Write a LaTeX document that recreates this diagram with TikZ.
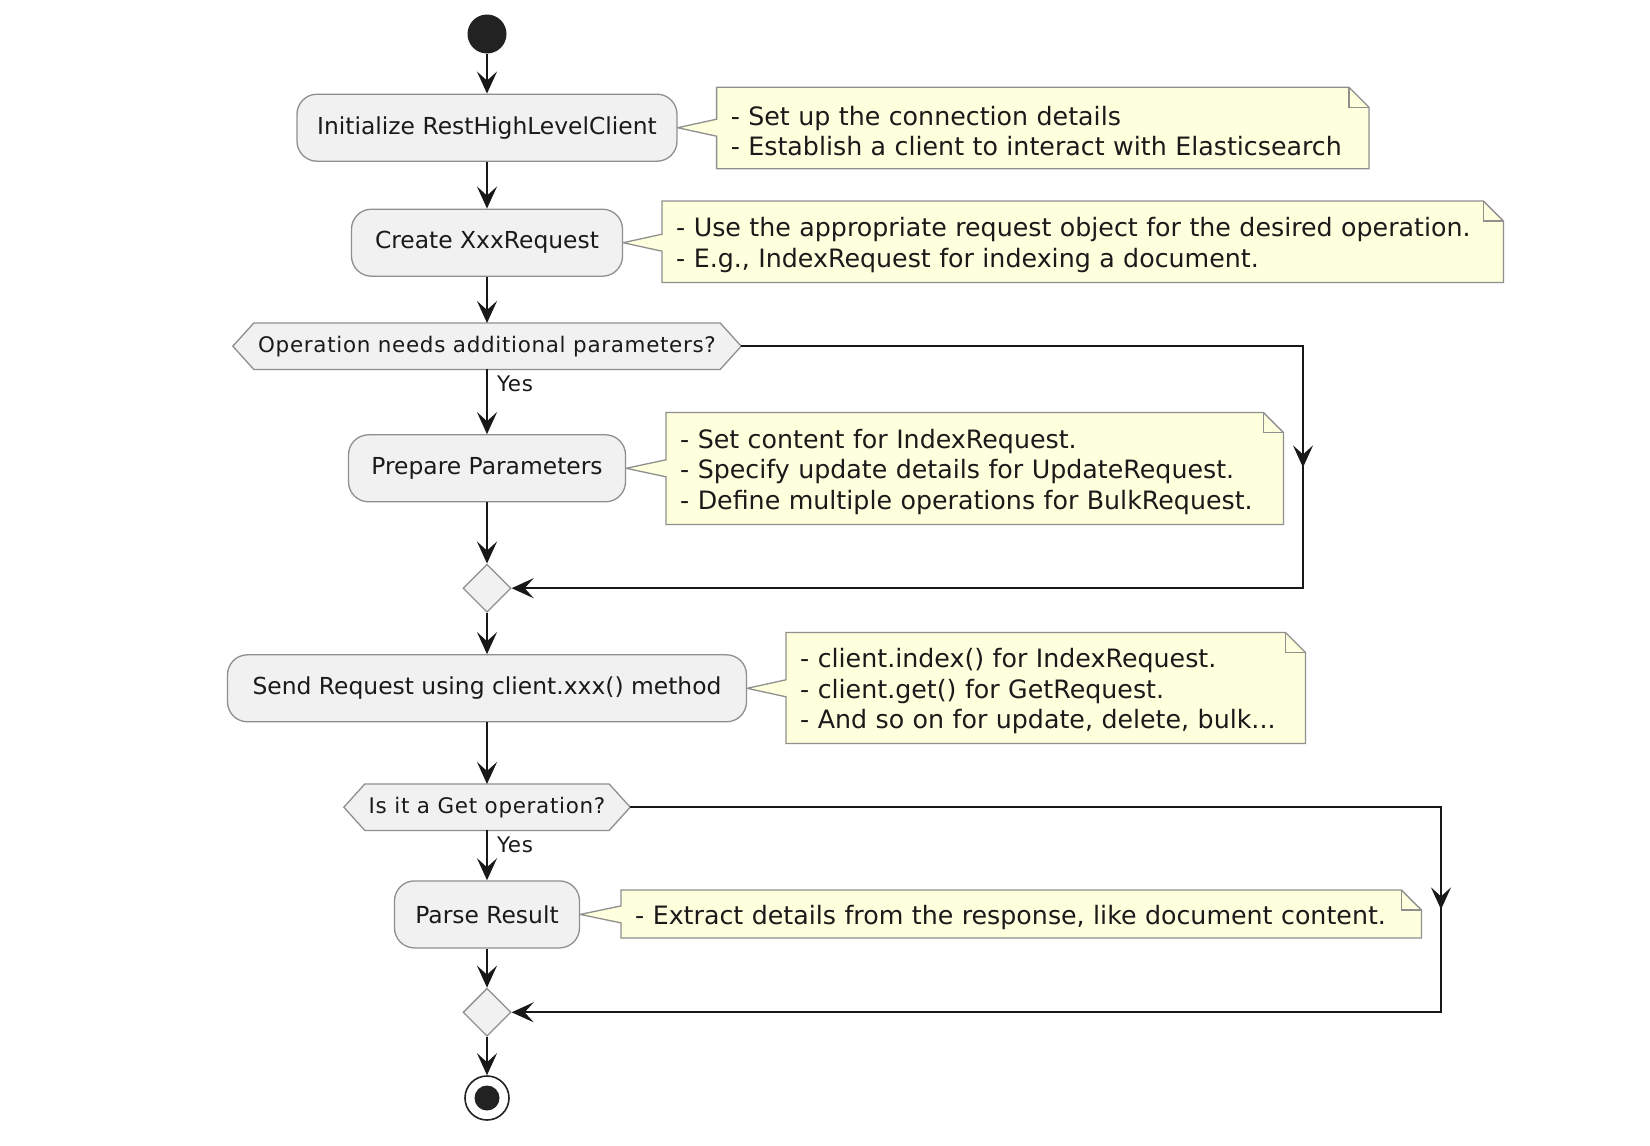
\documentclass[tikz,border=0pt]{standalone}
\usepackage{fontspec}
\setmainfont{DejaVu Sans}
\newfontfamily\hexfont[LetterSpace=3.2]{DejaVu Sans}
\usetikzlibrary{arrows.meta,shapes.geometric,backgrounds,calc,decorations.markings}
\definecolor{boxfill}{HTML}{F1F1F1}
\definecolor{boxline}{HTML}{8F8F8F}
\definecolor{notefill}{HTML}{FEFFDD}
\definecolor{ink}{HTML}{181818}
\definecolor{startc}{HTML}{222222}
\definecolor{txt}{HTML}{1A1A1A}
\tikzset{
  >={Stealth[length=22pt,width=20pt,inset=9pt]},
  actbox/.style={rectangle, rounded corners=20pt, draw=boxline, line width=1.3pt, fill=boxfill,
    minimum height=67pt, inner xsep=19pt, inner ysep=0pt, font=\fontsize{23.4}{28}\selectfont, text=txt},
  notetext/.style={inner xsep=14pt, inner ysep=0pt, align=left, anchor=north west,
    font=\fontsize{25.3}{30.5}\selectfont, text=txt, execute at begin node={\rule{0pt}{25.5pt}}},
  noteshape/.style={fill=notefill, draw=boxline, line width=1.3pt, line join=miter},
  hexnode/.style={rectangle, inner sep=0pt, minimum height=46pt, font=\hexfont\fontsize{21.45}{26}\selectfont, text=txt},
  hexshape/.style={fill=boxfill, draw=boxline, line width=1.3pt, line join=miter},
  merge/.style={diamond, draw=boxline, fill=boxfill, line width=1.3pt, minimum width=48pt, minimum height=48pt, inner sep=0pt},
  endnode/.style={circle, draw=startc, line width=1.6pt, fill=white, minimum size=44pt, inner sep=0pt,
    path picture={\fill[startc] (path picture bounding box.center) circle (12.5pt);}},
  flow/.style={draw=ink, line width=2pt, ->},
  yeslabel/.style={anchor=north west, inner sep=0pt, xshift=9pt, yshift=-5pt,
    font=\hexfont\fontsize{21.45}{26}\selectfont, text=txt},
}
\newcommand{\noteoutline}[2]{%
  \path[noteshape] (#1.north west) -- ([xshift=-20pt]#1.north east) -- ([yshift=-20pt]#1.north east)
    -- (#1.south east) -- (#1.south west) -- ($(#1.west |- #2.east)+(0,8.5)$) -- (#2.east)
    -- ($(#1.west |- #2.east)+(0,-8.5)$) -- cycle;
  \draw[boxline, line width=1.3pt, line join=miter] ([xshift=-20pt]#1.north east)
    -- ([xshift=-20pt,yshift=-20pt]#1.north east) -- ([yshift=-20pt]#1.north east);}
\newcommand{\hexoutline}[1]{%
  \path[hexshape] (#1.north west) -- (#1.north east) -- ($(#1.east)+(21,0)$) -- (#1.south east)
    -- (#1.south west) -- ($(#1.west)+(-21,0)$) -- cycle;}
\begin{document}
\begin{tikzpicture}[x=1pt,y=-1pt]
\begin{scope}[on background layer]
  \fill[white] (0,0) rectangle (1650,1146);
\end{scope}
\useasboundingbox (0,0) rectangle (1650,1146);

% main flow nodes
\node[circle, fill=startc, minimum size=39pt, inner sep=0pt] (start) at (487,34) {};
\node[actbox, minimum width=380pt] (init) at (487,127.7) {Initialize RestHighLevelClient};
\node[actbox, minimum width=271pt] (create) at (487,242.7) {Create XxxRequest};
\node[hexnode, minimum width=466pt] (h1) at (487,346.2) {Operation needs additional parameters?};
\node[actbox, minimum width=277pt] (prep) at (487,468.3) {Prepare Parameters};
\node[merge] (d1) at (487,588.2) {};
\node[actbox, minimum width=519pt] (send) at (487,688.3) {Send Request using client.xxx() method};
\node[hexnode, minimum width=244pt] (h2) at (487,807.2) {Is it a Get operation?};
\node[actbox, minimum width=185pt] (parse) at (487,914.4) {Parse Result};
\node[merge] (d2) at (487,1012.3) {};
\node[endnode] (stop) at (487,1098) {};

% notes
\node[notetext, text width=624pt, minimum height=81pt] (n1) at (716.6,87.3)
  {\mbox{- Set up the connection details}\\\mbox{- Establish a client to interact with Elasticsearch}};
\node[notetext, text width=813pt, minimum height=81pt] (n2) at (662,201)
  {\mbox{- Use the appropriate request object for the desired operation.}\\\mbox{- E.g., IndexRequest for indexing a document.}};
\node[notetext, text width=589pt, minimum height=111.5pt] (n3) at (666,412.5)
  {\mbox{- Set content for IndexRequest.}\\\mbox{- Specify update details for UpdateRequest.}\\\mbox{- Define multiple operations for BulkRequest.}};
\node[notetext, text width=491pt, minimum height=110.6pt] (n4) at (786,632.4)
  {\mbox{- client.index() for IndexRequest.}\\\mbox{- client.get() for GetRequest.}\\\mbox{- And so on for update, delete, bulk...}};
\node[notetext, text width=772pt, minimum height=47.6pt] (n5) at (621,890)
  {\mbox{- Extract details from the response, like document content.}};

\begin{scope}[on background layer]
  \noteoutline{n1}{init}
  \noteoutline{n2}{create}
  \noteoutline{n3}{prep}
  \noteoutline{n4}{send}
  \noteoutline{n5}{parse}
  \hexoutline{h1}
  \hexoutline{h2}
\end{scope}

\coordinate (h1r) at ($(h1.east)+(21,0)$);
\coordinate (h2r) at ($(h2.east)+(21,0)$);
\coordinate (r1a) at (1303,346.2);
\coordinate (r1b) at (1303,588.2);
\coordinate (r2a) at (1441,807.2);
\coordinate (r2b) at (1441,1012.3);

% connectors
\draw[flow] (start) -- (init);
\draw[flow] (init) -- (create);
\draw[flow] (create) -- (h1.north);
\draw[flow] (h1.south) -- node[pos=0, yeslabel] {Yes} (prep.north);
\draw[flow] (prep) -- (d1.north);
\draw[flow] (d1.south) -- (send.north);
\draw[flow] (send) -- (h2.north);
\draw[flow] (h2.south) -- node[pos=0, yeslabel] {Yes} (parse.north);
\draw[flow] (parse) -- (d2.north);
\draw[flow] (d2.south) -- (stop);

\draw[flow, postaction={decorate}, decoration={markings, mark=at position 683pt with {\arrow{>}}}]
  (h1r) -- (r1a) -- (r1b) -- (d1.east);
\draw[flow, postaction={decorate}, decoration={markings, mark=at position 913pt with {\arrow{>}}}]
  (h2r) -- (r2a) -- (r2b) -- (d2.east);
\end{tikzpicture}
\end{document}
